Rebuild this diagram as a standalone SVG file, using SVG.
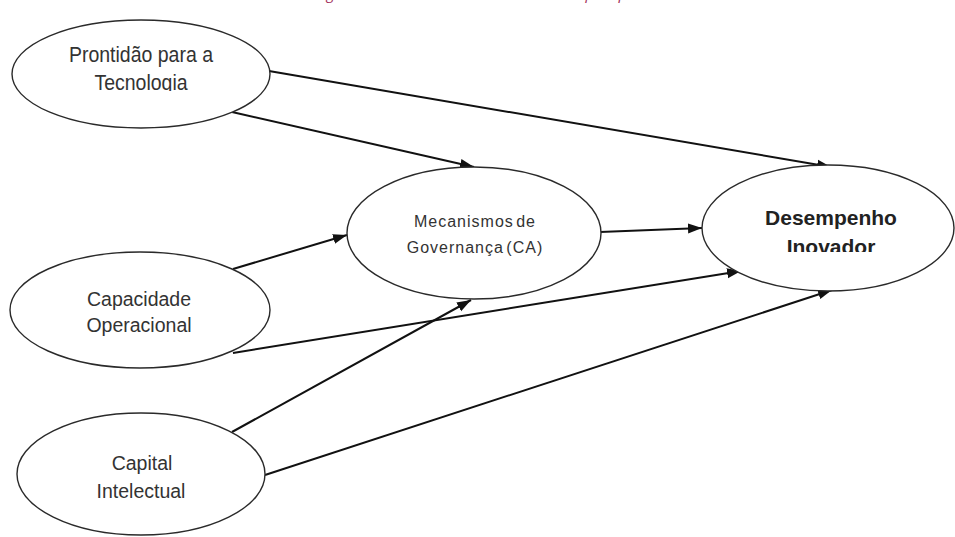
<svg xmlns="http://www.w3.org/2000/svg" width="955" height="537" viewBox="0 0 955 537">
  <style>
    .node ellipse { fill: #ffffff; stroke: #2a2a2a; stroke-width: 1.4; }
    .lbl { font-family: "Liberation Sans", Arial, sans-serif; font-size: 19.5px; fill: #333333; text-anchor: middle; }
    .bold { font-weight: bold; font-size: 21px; fill: #222222; }
    .small { font-size: 16px; letter-spacing: 1px; word-spacing: -3px; }
    .edge { stroke: #111111; stroke-width: 2; fill: none; marker-end: url(#arrow); }
    .caption { font-family: "Open Sans", "Liberation Sans", sans-serif; font-style: italic; font-size: 15px; fill: #a3305a; }
  </style>
  <defs>
    <marker id="arrow" markerUnits="userSpaceOnUse" markerWidth="15" markerHeight="11" refX="14" refY="5.5" orient="auto">
      <path d="M0,0.5 L14,5.5 L0,10.5 z" fill="#111111"/>
    </marker>
    <clipPath id="clipA"><rect x="0" y="0" width="300" height="91"/></clipPath>
    <clipPath id="clipD"><rect x="690" y="150" width="265" height="102"/></clipPath>
  </defs>
  <rect x="0" y="0" width="955" height="537" fill="#ffffff"/>

  <text class="caption" x="312" y="-1" textLength="345" lengthAdjust="spacing">Figura 1 – Modelo conceitual da pesquisa</text>

  <g id="connectors">
    <line class="edge" x1="269" y1="71" x2="831" y2="167"/>
    <line class="edge" x1="232" y1="112" x2="474" y2="167"/>
    <line class="edge" x1="233" y1="269" x2="347" y2="235"/>
    <line class="edge" x1="600" y1="232" x2="702" y2="228"/>
    <line class="edge" x1="233" y1="353" x2="741" y2="271"/>
    <line class="edge" x1="232" y1="432" x2="471" y2="300"/>
    <line class="edge" x1="265" y1="475" x2="832" y2="290"/>
  </g>

  <g id="prontidao" class="node">
    <ellipse cx="141" cy="74" rx="129" ry="54"/>
    <g clip-path="url(#clipA)">
      <text class="lbl" x="141" y="62" transform="translate(0,-9.3) scale(1,1.15)">Prontidão para a</text>
      <text class="lbl" x="141" y="90" transform="translate(0,-13.5) scale(1,1.15)">Tecnologia</text>
    </g>
  </g>

  <g id="mecanismos" class="node">
    <ellipse cx="474" cy="233" rx="127" ry="66"/>
    <text class="lbl small" x="475" y="227">Mecanismos de</text>
    <text class="lbl small" x="475" y="253">Governança (CA)</text>
  </g>

  <g id="desempenho" class="node">
    <ellipse cx="828" cy="228" rx="126" ry="63"/>
    <g clip-path="url(#clipD)">
      <text class="lbl bold" x="831" y="225">Desempenho</text>
      <text class="lbl bold" x="831" y="254">Inovador</text>
    </g>
  </g>

  <g id="capacidade" class="node">
    <ellipse cx="140" cy="310" rx="130" ry="58"/>
    <text class="lbl" x="139" y="306">Capacidade</text>
    <text class="lbl" x="139" y="332">Operacional</text>
  </g>

  <g id="capital" class="node">
    <ellipse cx="141" cy="474" rx="124" ry="61"/>
    <text class="lbl" x="142" y="470">Capital</text>
    <text class="lbl" x="141" y="498">Intelectual</text>
  </g>
</svg>
